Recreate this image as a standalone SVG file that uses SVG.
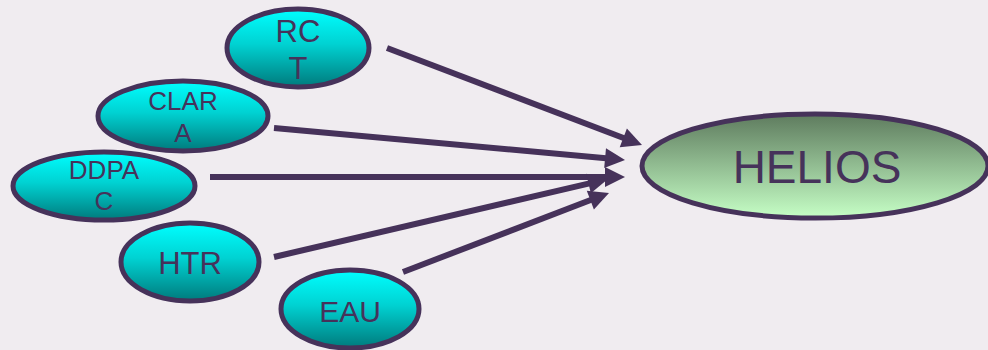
<svg xmlns="http://www.w3.org/2000/svg" width="988" height="350" viewBox="0 0 988 350">
<defs>
<linearGradient id="cyan" x1="0" y1="0" x2="0" y2="1">
<stop offset="0" stop-color="#00FFFF"/>
<stop offset="0.45" stop-color="#00D2D2"/>
<stop offset="1" stop-color="#007A7C"/>
</linearGradient>
<linearGradient id="green" x1="0" y1="0" x2="0" y2="1">
<stop offset="0" stop-color="#5E7B5E"/>
<stop offset="1" stop-color="#C6FFC6"/>
</linearGradient>
</defs>
<style>
.node{stroke:#46325A;stroke-width:5}
.cy{fill:url(#cyan)}
.gr{fill:url(#green)}
.t{font-family:"Liberation Sans",Arial,sans-serif;fill:#46325A;text-anchor:middle}
.c{stroke:#46325A;stroke-width:6;fill:none}
.h{fill:#46325A}
</style>
<rect width="988" height="350" fill="#F0ECF0"/>
<g id="connectors">
<line class="c" x1="387" y1="48" x2="624.2" y2="138.2"/>
<polygon class="h" points="642,145 619.7,147.2 626.9,128.5"/>
<line class="c" x1="274" y1="128" x2="606" y2="158.3"/>
<polygon class="h" points="625,160 604.2,168.1 606.0,148.2"/>
<line class="c" x1="210" y1="177" x2="606" y2="177"/>
<polygon class="h" points="625,177 605,187 605,167"/>
<line class="c" x1="274" y1="257" x2="589.5" y2="183.3"/>
<polygon class="h" points="608,179 590.8,193.3 586.3,173.8"/>
<line class="c" x1="403" y1="272" x2="591.3" y2="199.8"/>
<polygon class="h" points="609,193 593.9,209.5 586.8,190.8"/>
</g>
<g id="rct">
<ellipse class="node cy" cx="298" cy="48" rx="71" ry="39"/>
<text class="t" x="298" y="42" font-size="31">RC</text>
<text class="t" x="298" y="79" font-size="31">T</text>
</g>
<g id="clara">
<ellipse class="node cy" cx="183" cy="116" rx="85" ry="35"/>
<text class="t" x="183" y="110" font-size="26">CLAR</text>
<text class="t" x="183" y="142" font-size="26">A</text>
</g>
<g id="ddpac">
<ellipse class="node cy" cx="104" cy="186" rx="91" ry="34"/>
<text class="t" x="104" y="179" font-size="26">DDPA</text>
<text class="t" x="104" y="210" font-size="26">C</text>
</g>
<g id="htr">
<ellipse class="node cy" cx="190" cy="262" rx="69" ry="39"/>
<text class="t" x="190" y="274" font-size="31">HTR</text>
</g>
<g id="eau">
<ellipse class="node cy" cx="350" cy="309" rx="69" ry="39"/>
<text class="t" x="350" y="322" font-size="30">EAU</text>
</g>
<g id="helios">
<ellipse class="node gr" cx="815" cy="166" rx="173" ry="52"/>
<text class="t" x="817" y="183" font-size="46">HELIOS</text>
</g>
</svg>
